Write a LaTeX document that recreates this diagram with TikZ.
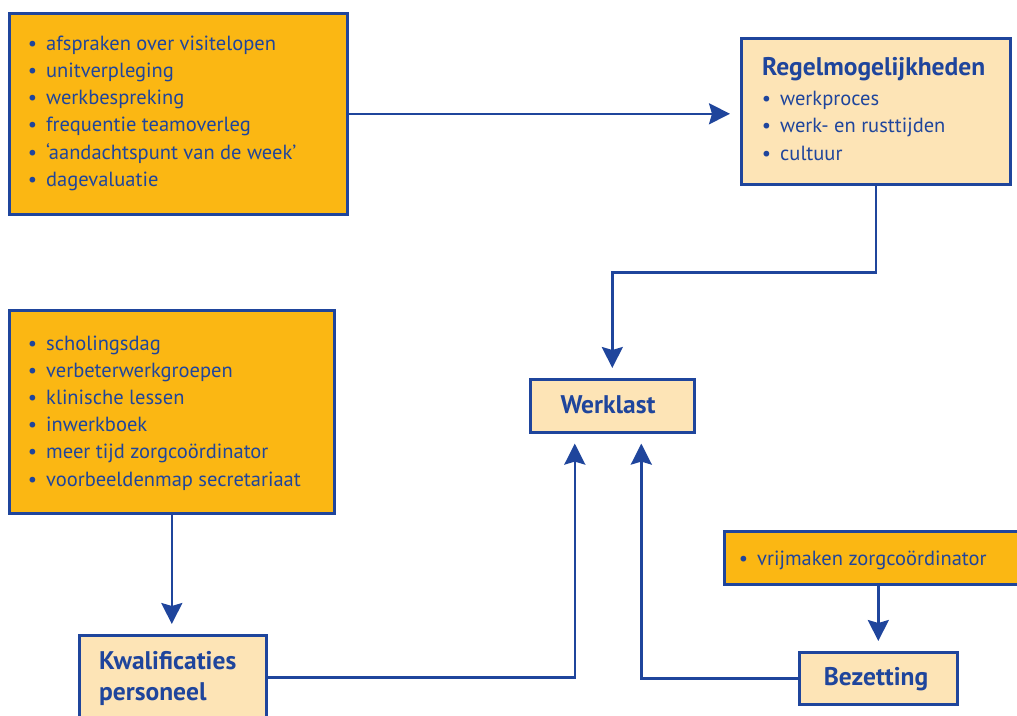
\documentclass[tikz,border=0pt]{standalone}
\usepackage{fontspec}
\setmainfont{PT Sans}
\usetikzlibrary{arrows.meta}
\definecolor{navy}{HTML}{1F459C}
\definecolor{amber}{HTML}{FBB713}
\definecolor{cream}{HTML}{FDE4B6}
\newcommand\itembullet{\llap{\textbullet\hspace{9pt}}}
\begin{document}
\begin{tikzpicture}[x=1pt,y=-1pt,
  box/.style={draw=navy, line width=2.6pt, anchor=north west, inner sep=0pt},
  hot/.style={box, fill=amber},
  soft/.style={box, fill=cream},
  item/.style={anchor=base west, inner sep=0pt, text=navy, font=\fontsize{20.5}{24}\selectfont},
  head/.style={inner sep=0pt, text=navy, font=\fontsize{25.5}{30}\selectfont\bfseries},
  link/.style={draw=navy, line width=2.4pt, -{Stealth[length=21pt,width=21pt,inset=3pt]}, shorten >=10pt}]
\useasboundingbox (0,0) rectangle (1017,715);

% boxes
\node[hot, minimum width=338pt, minimum height=201pt] (meas) at (8,12) {};
\node[soft, minimum width=269pt, minimum height=146pt] (regel) at (740,37) {};
\node[soft, minimum width=164pt, minimum height=53pt] (werk) at (529,378) {};
\node[hot, minimum width=325pt, minimum height=203pt] (train) at (8,309) {};
\node[soft, minimum width=187pt, minimum height=84pt] (kwal) at (78,634) {};
\node[hot, minimum width=307pt, minimum height=53pt] (vrij) at (723,530) {};
\node[soft, minimum width=158pt, minimum height=52pt] (bez) at (798,651) {};

% measures, top left
\foreach \t [count=\i from 0] in {afspraken over visitelopen, unitverpleging, werkbespreking,
    frequentie teamoverleg, {‘aandachtspunt van de week’}, dagevaluatie}
  \node[item] (meas-\i) at (46,{50+27.3*\i}) {\itembullet\t};

% Regelmogelijkheden
\node[head, anchor=base west] (regel-h) at (762,75) {Regelmogelijkheden};
\foreach \t [count=\i from 0] in {werkproces, werk- en rusttijden, cultuur}
  \node[item] (regel-\i) at (780,{105+27.5*\i}) {\itembullet\t};

% training measures
\foreach \t [count=\i from 0] in {scholingsdag, verbeterwerkgroepen, klinische lessen,
    inwerkboek, meer tijd zorgcoördinator, voorbeeldenmap secretariaat}
  \node[item] (train-\i) at (46,{350+27.2*\i}) {\itembullet\t};

% single labels
\node[head, anchor=base] (werk-t) at (608,413) {Werklast};
\node[head, anchor=base west] (kwal-1) at (99,669) {Kwalificaties};
\node[head, anchor=base west] (kwal-2) at (99,700) {personeel};
\node[head, anchor=base] (bez-t) at (876,685) {Bezetting};
\node[item] (vrij-t) at (757,565) {\itembullet vrijmaken zorgcoördinator};

% connectors
\draw[link] (meas.east) -- (regel.west |- meas.east);
\draw[link] (regel.south) -- ++(0,87) -| (werk.north);
\draw[link] (train.south) -- (train.south |- kwal.north);
\draw[link] (kwal.east) -| ([xshift=-37.5pt]werk.south);
\draw[link] (bez.west) -| ([xshift=29pt]werk.south);
\draw[link] (vrij.south -| bez.north) -- (bez.north);
\end{tikzpicture}
\end{document}
